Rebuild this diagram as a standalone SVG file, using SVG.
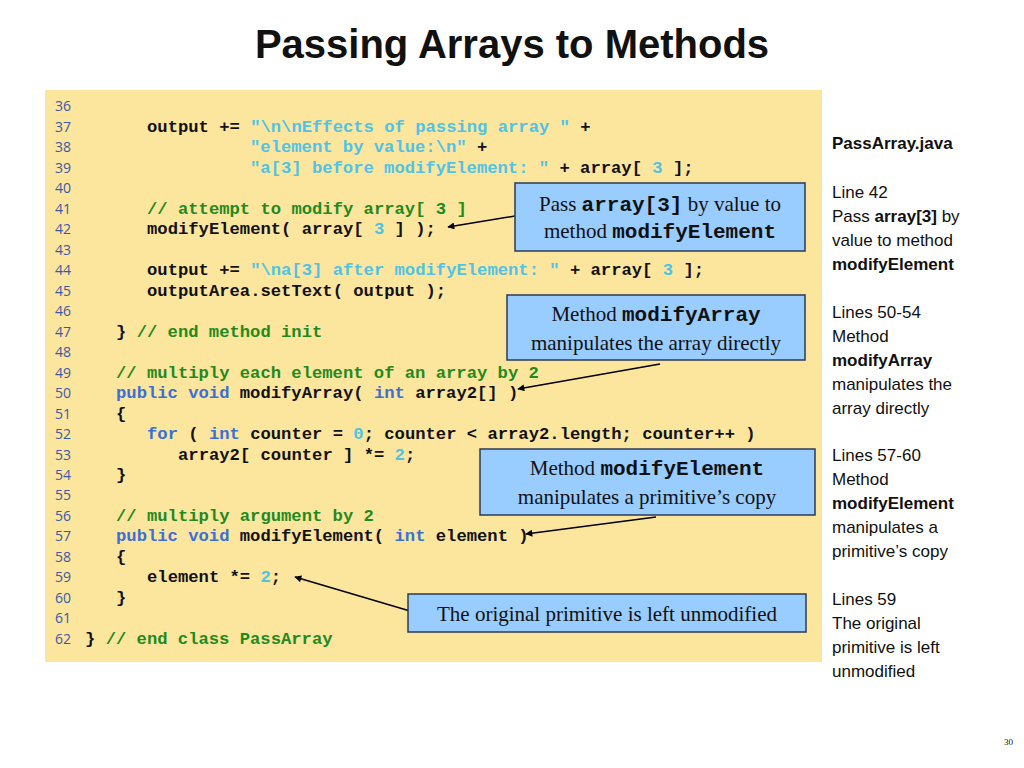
<svg xmlns="http://www.w3.org/2000/svg" width="1024" height="768" viewBox="0 0 1024 768">
<defs>
<marker id="ah" viewBox="0 0 10 10" refX="9" refY="5" markerWidth="9" markerHeight="7" orient="auto" markerUnits="userSpaceOnUse"><path d="M0,0 L10,5 L0,10 z" fill="#000"/></marker>
</defs>
<style>
.code{font-family:"Liberation Mono",monospace;font-size:17.2px;font-weight:bold;fill:#111;white-space:pre}
.ln{font-family:"Open Sans","Liberation Sans",sans-serif;font-size:14px;fill:#3a5aa8}
.s{fill:#4fc3e6}.c{fill:#1f8a1f}.k{fill:#3a6fd8}
.box{fill:#99ccff;stroke:#2b3a55;stroke-width:1.5}
.bt{font-family:"Liberation Serif",serif;font-size:21px;fill:#111}
.bm{font-family:"Liberation Mono",monospace;font-weight:bold}
.side{font-family:"Liberation Sans",sans-serif;font-size:17px;fill:#111}
.conn line{stroke:#000;stroke-width:1.5;marker-end:url(#ah)}
</style>
<rect width="1024" height="768" fill="#fff"/>
<text x="512" y="58" text-anchor="middle" font-family="Liberation Sans,sans-serif" font-weight="bold" font-size="40" fill="#111">Passing Arrays to Methods</text>
<rect x="45" y="90" width="777" height="572" fill="#fce59d"/>
<g id="linenums" class="ln">
<text x="55" y="111">36</text><text x="55" y="132">37</text><text x="55" y="152">38</text><text x="55" y="173">39</text><text x="55" y="193">40</text><text x="55" y="214">41</text><text x="55" y="234">42</text><text x="55" y="255">43</text><text x="55" y="275">44</text><text x="55" y="296">45</text><text x="55" y="316">46</text><text x="55" y="337">47</text><text x="55" y="357">48</text><text x="55" y="378">49</text><text x="55" y="398">50</text><text x="55" y="419">51</text><text x="55" y="439">52</text><text x="55" y="460">53</text><text x="55" y="480">54</text><text x="55" y="500">55</text><text x="55" y="521">56</text><text x="55" y="541">57</text><text x="55" y="562">58</text><text x="55" y="582">59</text><text x="55" y="603">60</text><text x="55" y="623">61</text><text x="55" y="644">62</text>
</g>
<g id="code" class="code">
<text x="147" y="132">output += <tspan class="s">"\n\nEffects of passing array "</tspan> +</text>
<text x="250" y="152"><tspan class="s">"element by value:\n"</tspan> +</text>
<text x="250" y="173"><tspan class="s">"a[3] before modifyElement: "</tspan> + array[ <tspan class="s">3</tspan> ];</text>
<text x="147" y="214" class="c">// attempt to modify array[ 3 ]</text>
<text x="147" y="234">modifyElement( array[ <tspan class="s">3</tspan> ] );</text>
<text x="147" y="275">output += <tspan class="s">"\na[3] after modifyElement: "</tspan> + array[ <tspan class="s">3</tspan> ];</text>
<text x="147" y="296">outputArea.setText( output );</text>
<text x="116" y="337">}  <tspan class="c">// end method init</tspan></text>
<text x="116" y="378" class="c">// multiply each element of an array by 2</text>
<text x="116" y="398"><tspan class="k">public void</tspan> modifyArray( <tspan class="k">int</tspan> array2[] )</text>
<text x="116" y="419">{</text>
<text x="147" y="439"><tspan class="k">for</tspan> ( <tspan class="k">int</tspan> counter = <tspan class="s">0</tspan>; counter &lt; array2.length; counter++ )</text>
<text x="178" y="460">array2[ counter ] *= <tspan class="s">2</tspan>;</text>
<text x="116" y="480">}</text>
<text x="116" y="521" class="c">// multiply argument by 2</text>
<text x="116" y="541"><tspan class="k">public void</tspan> modifyElement( <tspan class="k">int</tspan> element )</text>
<text x="116" y="562">{</text>
<text x="147" y="582">element *= <tspan class="s">2</tspan>;</text>
<text x="116" y="603">}</text>
<text x="85" y="644">}  <tspan class="c">// end class PassArray</tspan></text>
</g>
<g id="connectors" class="conn">
<line x1="515" y1="216" x2="448" y2="227"/>
<line x1="660" y1="364" x2="518" y2="389"/>
<line x1="656" y1="517" x2="526" y2="534"/>
<line x1="410" y1="611" x2="295" y2="577"/>
</g>
<g id="box1"><rect class="box" x="515" y="183" width="290" height="68"/>
<text class="bt" x="660" y="211" text-anchor="middle">Pass <tspan class="bm">array[3]</tspan> by value to</text>
<text class="bt" x="660" y="238" text-anchor="middle">method <tspan class="bm">modifyElement</tspan></text></g>
<g id="box2"><rect class="box" x="507" y="295" width="298" height="65"/>
<text class="bt" x="656" y="321" text-anchor="middle">Method <tspan class="bm">modifyArray</tspan></text>
<text class="bt" x="656" y="350" text-anchor="middle">manipulates the array directly</text></g>
<g id="box3"><rect class="box" x="480" y="449" width="335" height="66"/>
<text class="bt" x="647" y="475" text-anchor="middle">Method <tspan class="bm">modifyElement</tspan></text>
<text class="bt" x="647" y="504" text-anchor="middle">manipulates a primitive’s copy</text></g>
<g id="box4"><rect class="box" x="408" y="594" width="398" height="38"/>
<text class="bt" x="607" y="621" text-anchor="middle">The original primitive is left unmodified</text></g>
<g id="side" class="side">
<text x="832" y="149" font-weight="bold">PassArray.java</text>
<text x="832" y="198">Line 42</text>
<text x="832" y="222">Pass <tspan font-weight="bold">array[3]</tspan> by</text>
<text x="832" y="246">value to method</text>
<text x="832" y="270" font-weight="bold">modifyElement</text>
<text x="832" y="318">Lines 50-54</text>
<text x="832" y="342">Method</text>
<text x="832" y="366" font-weight="bold">modifyArray</text>
<text x="832" y="390">manipulates the</text>
<text x="832" y="414">array directly</text>
<text x="832" y="461">Lines 57-60</text>
<text x="832" y="485">Method</text>
<text x="832" y="509" font-weight="bold">modifyElement</text>
<text x="832" y="533">manipulates a</text>
<text x="832" y="557">primitive’s copy</text>
<text x="832" y="605">Lines 59</text>
<text x="832" y="629">The original</text>
<text x="832" y="653">primitive is left</text>
<text x="832" y="677">unmodified</text>
</g>
<text x="1013" y="745" text-anchor="end" font-family="Liberation Serif,serif" font-size="9" fill="#111">30</text>
</svg>
